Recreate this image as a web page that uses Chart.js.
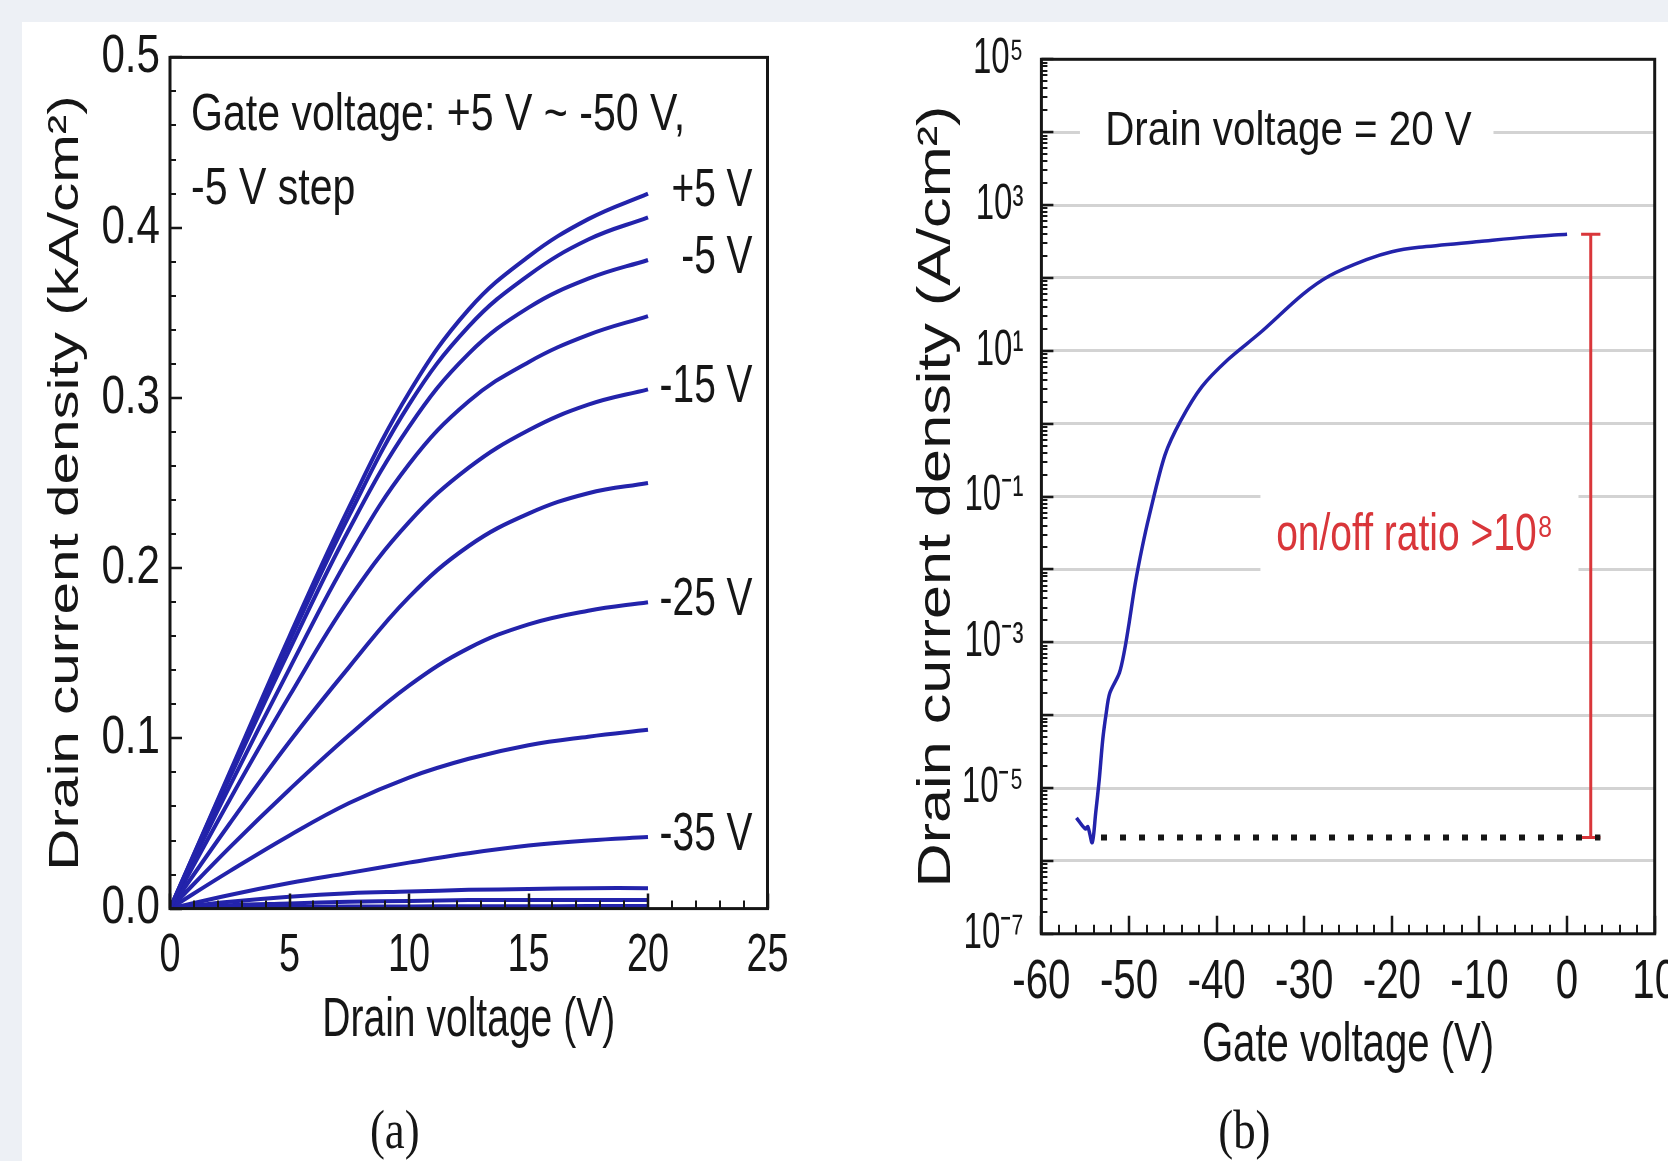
<!DOCTYPE html>
<html>
<head>
<meta charset="utf-8">
<title>Output and transfer curves</title>
<script src="https://cdn.jsdelivr.net/npm/chart.js@4.4.1/dist/chart.umd.min.js"></script>
<style>
  html, body { margin: 0; padding: 0; width: 1668px; height: 1161px; overflow: hidden; background: #edf0f5; }
  #panel { position: absolute; left: 22px; top: 22px; width: 1646px; height: 1139px; background: #ffffff; }
  #wrapA { position: absolute; left: 0; top: 0; width: 812px; height: 1139px; }
  #wrapB { position: absolute; left: 812px; top: 0; width: 834px; height: 1139px; }
</style>
</head>
<body>
<div id="panel">
  <div id="wrapA"><canvas id="outputChart" width="812" height="1139"></canvas></div>
  <div id="wrapB"><canvas id="transferChart" width="834" height="1139"></canvas></div>
</div>
<script>
// ==========================================
// 1. DATA
// ==========================================

// (a) output curves: drain current density (kA/cm2) vs drain voltage, one per gate voltage
const drainV = [0, 2.5, 5, 7.5, 10, 12.5, 15, 17.5, 20];
const jVgP5  = [0, 0.080, 0.160, 0.236, 0.303, 0.352, 0.383, 0.405, 0.420];
const jVg0   = [0, 0.079, 0.157, 0.231, 0.296, 0.342, 0.372, 0.393, 0.406];
const jVgM5  = [0, 0.077, 0.152, 0.223, 0.283, 0.326, 0.353, 0.370, 0.381];
const jVgM10 = [0, 0.072, 0.141, 0.207, 0.261, 0.298, 0.321, 0.337, 0.348];
const jVgM15 = [0, 0.064, 0.125, 0.182, 0.227, 0.259, 0.281, 0.296, 0.305];
const jVgM20 = [0, 0.050, 0.098, 0.142, 0.183, 0.213, 0.232, 0.244, 0.250];
const jVgM25 = [0, 0.036, 0.070, 0.102, 0.131, 0.153, 0.167, 0.175, 0.180];
const jVgM30 = [0, 0.022, 0.043, 0.062, 0.077, 0.088, 0.096, 0.101, 0.105];
const jVgM35 = [0, 0.008, 0.015, 0.021, 0.027, 0.0325, 0.037, 0.040, 0.042];
const jVgM40 = [0, 0.004, 0.007, 0.009, 0.010, 0.011, 0.0115, 0.012, 0.012];
const jVgM45 = [0, 0.002, 0.003, 0.004, 0.0045, 0.005, 0.005, 0.005, 0.005];
const jVgM50 = [0, 0.0005, 0.001, 0.0012, 0.0013, 0.0014, 0.0014, 0.0015, 0.0015];
const outputSeries = [jVgP5, jVg0, jVgM5, jVgM10, jVgM15, jVgM20, jVgM25, jVgM30, jVgM35, jVgM40, jVgM45, jVgM50];
const outputNames = ['+5 V', '0 V', '-5 V', '-10 V', '-15 V', '-20 V', '-25 V', '-30 V', '-35 V', '-40 V', '-45 V', '-50 V'];
// curves that carry a tag at their right end
const taggedNames = ['+5 V', '-5 V', '-15 V', '-25 V', '-35 V'];

// (b) transfer curve at Vd = 20 V: drain current density (A/cm2) vs gate voltage
const gateV = [-56.0, -55.0, -54.7, -54.2, -53.8, -53.4, -53.0, -52.6, -52.2, -51.1, -50.5, -50.0,
               -49.3, -48.5, -47.7, -45.9, -44.1, -41.7, -38.7, -35.0, -30.2, -27.1, -22.9, -20.0,
               -16.9, -10.0, -4.7, 0];
const jTransfer = [3.9e-6, 2.75e-6, 2.95e-6, 1.78e-6, 4.6e-6, 1.3e-5, 4.6e-5, 1.07e-4, 2.0e-4, 3.8e-4, 7.9e-4, 1.8e-3,
                   6.3e-3, 0.020, 0.054, 0.37, 1.1, 3.2, 7.6, 17.8, 59, 107, 178, 229,
                   263, 316, 363, 398];
// off-level dotted line and the on/off bar (data units)
const offLevel = 2.1e-6;
const onLevel = 398;
const offLineV = [-53.2, 3.8];
const ratioBarV = 2.7;
const ratioCapV = [1.6, 3.8];
// decades on the log axis
const decades = [-7, -6, -5, -4, -3, -2, -1, 0, 1, 2, 3, 4, 5];

// ==========================================
// 2. STYLE CONSTANTS
// ==========================================
const SANS = "'Liberation Sans', Arial, sans-serif";
const SERIF = "'Liberation Serif', 'Times New Roman', serif";
const INK = '#161616';
const CURVE = '#2323ab';
const RED = '#d9363a';

Chart.defaults.color = INK;
Chart.defaults.font.family = SANS;

const SUP = { '-': '\u207B', '0': '\u2070', '1': '\u00B9', '2': '\u00B2', '3': '\u00B3', '4': '\u2074',
              '5': '\u2075', '6': '\u2076', '7': '\u2077', '8': '\u2078', '9': '\u2079' };
function powerLabel(e) {
    return '10' + String(e).split('').map(c => SUP[c]).join('');
}

function steps(from, to, step) {
    const out = [];
    for (let v = from; v <= to + 1e-9; v += step) out.push(Math.round(v * 1000) / 1000);
    return out;
}

// The figure's lettering is a narrow Helvetica; there is no narrow face installed,
// so text is drawn with Liberation Sans squeezed (or stretched) along its baseline.
function stretchText(ctx, sx, draw) {
    const own = Object.prototype.hasOwnProperty.call(ctx, 'fillText');
    const fill = ctx.fillText;
    ctx.fillText = function (text, x, y) {
        this.save();
        this.scale(sx, 1);
        fill.call(this, text, x / sx, y);
        this.restore();
    };
    try { draw(); } finally {
        if (own) ctx.fillText = fill; else delete ctx.fillText;
    }
}

function squeezedText(ctx, text, x, y, sx) {
    ctx.save();
    ctx.translate(x, y);
    ctx.scale(sx, 1);
    ctx.fillText(text, 0, 0);
    ctx.restore();
}

// wraps the tick labels / axis titles / panel title of one chart with stretchText
function makeSqueeze(f) {
    return {
        id: 'squeeze',
        beforeDraw(chart) {
            ['x', 'y'].forEach(id => {
                const s = chart.scales[id];
                if (!s || s.$squeezed) return;
                const drawLabels = s.drawLabels, drawTitle = s.drawTitle;
                s.drawLabels = function (area) { stretchText(this.ctx, f[id].ticks, () => drawLabels.call(this, area)); };
                s.drawTitle = function () { stretchText(this.ctx, f[id].title, () => drawTitle.call(this)); };
                s.$squeezed = true;
            });
            const t = chart.titleBlock;
            if (t && !t.$squeezed) {
                const draw = t.draw;
                t.draw = function (area) { stretchText(this.ctx, f.title, () => draw.call(this, area)); };
                t.$squeezed = true;
            }
        }
    };
}

// ==========================================
// 3. PLUGIN: FRAME + INWARD TICKS
// ==========================================
const frameAndTicks = {
    id: 'frameAndTicks',
    afterDatasetsDraw(chart, args, o) {
        const { ctx, chartArea: a } = chart;
        const xs = chart.scales.x, ys = chart.scales.y;
        ctx.save();
        ctx.strokeStyle = INK;
        ctx.lineCap = 'butt';

        const drawX = (vals, len) => vals.forEach(v => {
            const px = Math.round(xs.getPixelForValue(v));
            ctx.moveTo(px, a.bottom);
            ctx.lineTo(px, a.bottom - len);
        });
        const drawY = (vals, len) => vals.forEach(v => {
            const py = Math.round(ys.getPixelForValue(v));
            ctx.moveTo(a.left, py);
            ctx.lineTo(a.left + len, py);
        });

        ctx.lineWidth = 2.5;
        ctx.beginPath();
        drawX(o.xMajor, o.xMajorLen);
        drawY(o.yMajor, o.yMajorLen);
        ctx.stroke();

        ctx.lineWidth = 2;
        ctx.beginPath();
        drawX(o.xMinor, o.xMinorLen);
        drawY(o.yMinor, o.yMinorLen);
        ctx.stroke();

        ctx.lineWidth = 3;
        ctx.strokeRect(a.left, a.top, a.right - a.left, a.bottom - a.top);
        ctx.restore();
    }
};

// ==========================================
// 4. CHART (a): OUTPUT CURVES
// ==========================================
const notesA = {
    id: 'notesA',
    afterDatasetsDraw(chart) {
        const { ctx, chartArea: a } = chart;
        const ys = chart.scales.y;
        ctx.save();
        ctx.fillStyle = INK;
        ctx.font = '52px ' + SANS;
        ctx.textBaseline = 'middle';
        ctx.textAlign = 'left';
        squeezedText(ctx, 'Gate voltage: +5 V ~ -50 V,', a.left + 21, a.top + 58, 0.79);
        squeezedText(ctx, '-5 V step', a.left + 21, a.top + 132, 0.79);

        // tags at the right end of selected curves
        ctx.font = '54px ' + SANS;
        ctx.textAlign = 'right';
        taggedNames.forEach(name => {
            const series = outputSeries[outputNames.indexOf(name)];
            const py = ys.getPixelForValue(series[series.length - 1]);
            squeezedText(ctx, name, a.right - 15, py - 2, 0.72);
        });
        ctx.restore();
    }
};

new Chart(document.getElementById('outputChart'), {
    type: 'line',
    data: {
        datasets: outputSeries.map((series, i) => ({
            label: outputNames[i],
            data: drainV.map((v, k) => ({ x: v, y: series[k] })),
            borderColor: CURVE,
            borderWidth: 4,
            pointRadius: 0,
            fill: false,
            tension: 0.4
        }))
    },
    options: {
        responsive: false,
        animation: false,
        events: [],
        layout: { padding: { left: 0, top: 35.4, right: 66.5, bottom: 0 } },
        plugins: {
            legend: { display: false },
            tooltip: { enabled: false },
            title: {
                display: true, text: '(a)', position: 'bottom', padding: 0, color: INK,
                font: { family: SERIF, size: 54, weight: 'normal', lineHeight: 1 }
            },
            frameAndTicks: {
                xMajor: steps(0, 25, 5), xMajorLen: 15,
                xMinor: steps(0, 25, 1).filter(v => v % 5 !== 0), xMinorLen: 8,
                yMajor: steps(0, 0.5, 0.1), yMajorLen: 12,
                yMinor: steps(0, 0.5, 0.02).filter(v => Math.round(v * 100) % 10 !== 0), yMinorLen: 6
            }
        },
        scales: {
            x: {
                type: 'linear', min: 0, max: 25,
                grid: { display: false, drawTicks: false },
                border: { display: false },
                ticks: {
                    stepSize: 5, autoSkip: false, maxRotation: 0, padding: 15,
                    font: { family: SANS, size: 54 }, color: INK,
                    callback: v => String(v)
                },
                title: {
                    display: true, text: 'Drain voltage (V)', color: INK,
                    font: { family: SANS, size: 55 }, padding: { top: 0, bottom: 53 }
                },
                afterFit(scale) { scale.height = 198.4; scale.paddingLeft = 0; scale.paddingRight = 0; }
            },
            y: {
                type: 'linear', min: 0, max: 0.5,
                grid: { display: false, drawTicks: false },
                border: { display: false },
                ticks: {
                    stepSize: 0.1, autoSkip: false, padding: 10,
                    font: { family: SANS, size: 54 }, color: INK,
                    callback: v => v.toFixed(1)
                },
                title: {
                    display: true, text: 'Drain current density (kA/cm\u00B2)', color: INK,
                    font: { family: SANS, size: 42, weight: 'normal' }, padding: { top: 19.3, bottom: 0 }
                },
                afterFit(scale) { scale.width = 148; scale.paddingTop = 0; scale.paddingBottom = 0; }
            }
        }
    },
    plugins: [frameAndTicks, notesA, makeSqueeze({
        x: { ticks: 0.70, title: 0.71 },
        y: { ticks: 0.78, title: 1.39 },
        title: 0.83
    })]
});

// ==========================================
// 5. CHART (b): TRANSFER CURVE
// ==========================================
const notesB = {
    id: 'notesB',
    // white boxes behind the two notes cut through the grid lines
    beforeDatasetsDraw(chart) {
        const { ctx } = chart;
        const xs = chart.scales.x, ys = chart.scales.y;
        ctx.save();
        ctx.fillStyle = '#ffffff';
        const y4 = ys.getPixelForValue(1e4);
        ctx.fillRect(xs.getPixelForValue(-55.6), y4 - 14, xs.getPixelForValue(-8.4) - xs.getPixelForValue(-55.6), 28);
        const yTop = ys.getPixelForValue(Math.pow(10, -0.7));
        const yBot = ys.getPixelForValue(Math.pow(10, -2.3));
        ctx.fillRect(xs.getPixelForValue(-35), yTop, xs.getPixelForValue(1.3) - xs.getPixelForValue(-35), yBot - yTop);
        ctx.restore();
    },
    afterDatasetsDraw(chart) {
        const { ctx } = chart;
        const xs = chart.scales.x, ys = chart.scales.y;
        ctx.save();
        ctx.textBaseline = 'middle';
        ctx.textAlign = 'center';
        ctx.fillStyle = INK;
        ctx.font = '48px ' + SANS;
        squeezedText(ctx, 'Drain voltage = 20 V', xs.getPixelForValue(-31.8), ys.getPixelForValue(1e4), 0.84);
        ctx.fillStyle = RED;
        ctx.font = '52px ' + SANS;
        squeezedText(ctx, 'on/off ratio >10\u2078', xs.getPixelForValue(-17.4), ys.getPixelForValue(Math.pow(10, -1.54)), 0.75);
        ctx.restore();
    }
};

const yMinorB = [];
decades.slice(0, -1).forEach(e => {
    for (let k = 2; k <= 9; k++) yMinorB.push(k * Math.pow(10, e));
});

new Chart(document.getElementById('transferChart'), {
    type: 'line',
    data: {
        datasets: [
            {
                label: 'Vd = 20 V',
                data: gateV.map((v, k) => ({ x: v, y: jTransfer[k] })),
                borderColor: CURVE, borderWidth: 3.5, pointRadius: 0, fill: false,
                tension: 0.3
            },
            {
                label: 'off level',
                data: offLineV.map(v => ({ x: v, y: offLevel })),
                borderColor: INK, borderWidth: 6, borderDash: [6, 13], borderCapStyle: 'butt',
                pointRadius: 0, fill: false
            },
            {
                label: 'on/off bar',
                data: [{ x: ratioBarV, y: onLevel }, { x: ratioBarV, y: offLevel }],
                borderColor: RED, borderWidth: 3, pointRadius: 0, fill: false
            },
            {
                label: 'on cap',
                data: ratioCapV.map(v => ({ x: v, y: onLevel })),
                borderColor: RED, borderWidth: 3, pointRadius: 0, fill: false
            },
            {
                label: 'off cap',
                data: ratioCapV.map(v => ({ x: v, y: offLevel })),
                borderColor: RED, borderWidth: 3, pointRadius: 0, fill: false
            }
        ]
    },
    options: {
        responsive: false,
        animation: false,
        events: [],
        layout: { padding: { left: 0, top: 37.3, right: 13.3, bottom: 0 } },
        plugins: {
            legend: { display: false },
            tooltip: { enabled: false },
            title: {
                display: true, text: '(b)', position: 'bottom', padding: 0, color: INK,
                font: { family: SERIF, size: 54, weight: 'normal', lineHeight: 1 }
            },
            frameAndTicks: {
                xMajor: steps(-60, 10, 10), xMajorLen: 18,
                xMinor: steps(-60, 10, 2).filter(v => v % 10 !== 0), xMinorLen: 9,
                yMajor: decades.map(e => Math.pow(10, e)), yMajorLen: 12,
                yMinor: yMinorB, yMinorLen: 6
            }
        },
        scales: {
            x: {
                type: 'linear', min: -60, max: 10,
                grid: { display: false, drawTicks: false },
                border: { display: false },
                ticks: {
                    stepSize: 10, autoSkip: false, maxRotation: 0, padding: 15.6,
                    font: { family: SANS, size: 56 }, color: INK,
                    callback: v => String(v)
                },
                title: {
                    display: true, text: 'Gate voltage (V)', color: INK,
                    font: { family: SANS, size: 55 }, padding: { top: 0, bottom: 28 }
                },
                afterFit(scale) { scale.height = 173.2; scale.paddingLeft = 0; scale.paddingRight = 0; }
            },
            y: {
                type: 'logarithmic', min: 1e-7, max: 1e5,
                afterBuildTicks(scale) { scale.ticks = decades.map(e => ({ value: Math.pow(10, e) })); },
                grid: {
                    drawTicks: false,
                    lineWidth: 3,
                    color: c => (c.index === 0 || c.index === decades.length - 1) ? 'rgba(0,0,0,0)' : '#d3d3d3'
                },
                border: { display: false },
                ticks: {
                    autoSkip: false, padding: 18,
                    font: { family: SANS, size: 50 }, color: INK,
                    callback: (v, i) => (decades[i] % 2 !== 0 ? powerLabel(decades[i]) : '')
                },
                title: {
                    display: true, text: 'Drain current density (A/cm\u00B2)', color: INK,
                    font: { family: SANS, size: 46, weight: 'normal' }, padding: { top: 76.2, bottom: 0 }
                },
                afterFit(scale) { scale.width = 207.4; scale.paddingTop = 0; scale.paddingBottom = 0; }
            }
        }
    },
    plugins: [frameAndTicks, notesB, makeSqueeze({
        x: { ticks: 0.72, title: 0.73 },
        y: { ticks: 0.66, title: 1.33 },
        title: 0.83
    })]
});
</script>
</body>
</html>
